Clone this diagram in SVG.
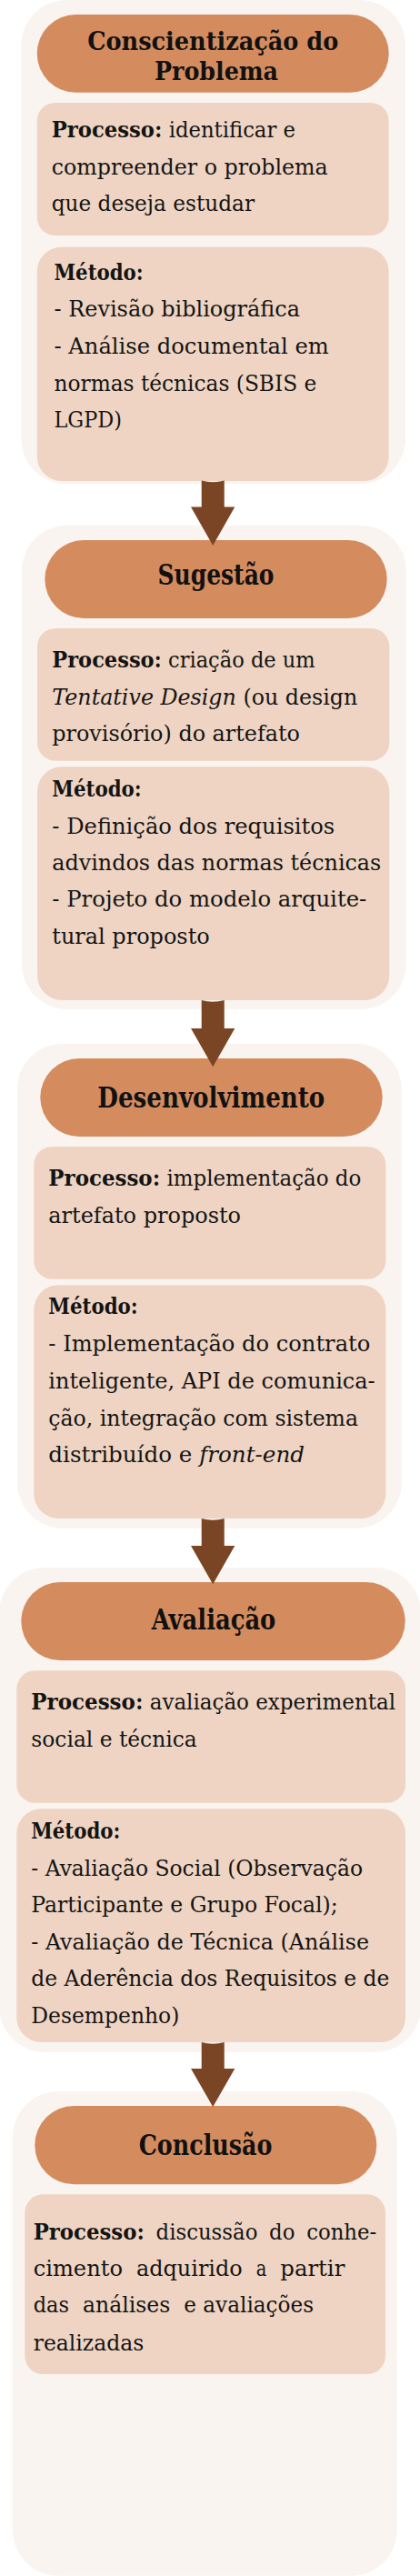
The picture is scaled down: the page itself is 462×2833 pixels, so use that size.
<svg xmlns="http://www.w3.org/2000/svg" width="462" height="2833" viewBox="0 0 462 2833">
<style>
.bg{fill:#FAF4F0}
.hd{fill:#D48C5F}
.bx{fill:#EFD4C3}
.ar{fill:#7A4524}
.t{font-family:'DejaVu Serif','Liberation Serif',serif;font-size:25px;fill:#141414}
.b{font-weight:bold}
.i{font-style:italic}
.h{font-family:'DejaVu Serif','Liberation Serif',serif;font-size:31px;font-weight:bold;fill:#111;text-anchor:middle}
.h2{font-size:28px}
.j{word-spacing:6px}
</style>
<rect width="462" height="2833" fill="#FFFFFF"/>

<g id="conscientizacao">
<rect class="bg" x="23.3" y="0" width="422.7" height="532.3" rx="50"/>
<rect class="hd" x="40.7" y="16" width="387" height="85.7" rx="42.8"/>
<text class="h h2" x="234.2" y="55" textLength="276" lengthAdjust="spacingAndGlyphs">Conscientização do</text>
<text class="h h2" x="238" y="88" textLength="136" lengthAdjust="spacingAndGlyphs">Problema</text>
<rect class="bx" x="40.7" y="113" width="387" height="146" rx="20"/>
<text class="t" x="56.7" y="150.7" textLength="268.3" lengthAdjust="spacingAndGlyphs"><tspan class="b">Processo:</tspan> identificar e</text>
<text class="t" x="56.7" y="191.7" textLength="304" lengthAdjust="spacingAndGlyphs">compreender o problema</text>
<text class="t" x="56.7" y="231.7" textLength="223.3" lengthAdjust="spacingAndGlyphs">que deseja estudar</text>
<rect class="bx" x="40.7" y="271.7" width="387" height="257.3" rx="27"/>
<text class="t b" x="59.5" y="308" textLength="98.2" lengthAdjust="spacingAndGlyphs">Método:</text>
<text class="t" x="59.5" y="348.3" textLength="270.5" lengthAdjust="spacingAndGlyphs">- Revisão bibliográfica</text>
<text class="t" x="59.5" y="389.3" textLength="302.2" lengthAdjust="spacingAndGlyphs">- Análise documental em</text>
<text class="t" x="59.5" y="430" textLength="288.8" lengthAdjust="spacingAndGlyphs">normas técnicas (SBIS e</text>
<text class="t" x="59.5" y="470" textLength="74.5" lengthAdjust="spacingAndGlyphs">LGPD)</text>
</g>

<g id="sugestao">
<rect class="bg" x="24" y="577.7" width="422.7" height="532.3" rx="50"/>
<rect class="hd" x="49.3" y="594" width="376.4" height="86" rx="43"/>
<text class="h" x="237.5" y="643.3" textLength="128" lengthAdjust="spacingAndGlyphs">Sugestão</text>
<rect class="bx" x="41" y="691" width="387.3" height="145.7" rx="20"/>
<text class="t" x="57.3" y="734" textLength="289.4" lengthAdjust="spacingAndGlyphs"><tspan class="b">Processo:</tspan> criação de um</text>
<text class="t" x="57.3" y="775" textLength="336" lengthAdjust="spacingAndGlyphs"><tspan class="i">Tentative Design</tspan> (ou design</text>
<text class="t" x="57.3" y="815" textLength="272.7" lengthAdjust="spacingAndGlyphs">provisório) do artefato</text>
<rect class="bx" x="41" y="843.3" width="387.3" height="256.7" rx="27"/>
<text class="t b" x="57.3" y="876" textLength="98.4" lengthAdjust="spacingAndGlyphs">Método:</text>
<text class="t" x="57.3" y="916.7" textLength="311" lengthAdjust="spacingAndGlyphs">- Definição dos requisitos</text>
<text class="t" x="57.3" y="956.7" textLength="362" lengthAdjust="spacingAndGlyphs">advindos das normas técnicas</text>
<text class="t" x="57.3" y="997" textLength="346" lengthAdjust="spacingAndGlyphs">- Projeto do modelo arquite-</text>
<text class="t" x="57.3" y="1038.3" textLength="173.4" lengthAdjust="spacingAndGlyphs">tural proposto</text>
</g>

<g id="desenvolvimento">
<rect class="bg" x="19" y="1147.7" width="422.7" height="533" rx="50"/>
<rect class="hd" x="44.3" y="1164" width="376.4" height="86" rx="43"/>
<text class="h" x="232.3" y="1218.3" textLength="250" lengthAdjust="spacingAndGlyphs">Desenvolvimento</text>
<rect class="bx" x="37.3" y="1261" width="387" height="145.7" rx="20"/>
<text class="t" x="53.3" y="1304" textLength="344" lengthAdjust="spacingAndGlyphs"><tspan class="b">Processo:</tspan> implementação do</text>
<text class="t" x="53.3" y="1345" textLength="211.7" lengthAdjust="spacingAndGlyphs">artefato proposto</text>
<rect class="bx" x="37.3" y="1413.3" width="387" height="256.7" rx="27"/>
<text class="t b" x="53.3" y="1445" textLength="98.4" lengthAdjust="spacingAndGlyphs">Método:</text>
<text class="t" x="53.3" y="1486" textLength="354" lengthAdjust="spacingAndGlyphs">- Implementação do contrato</text>
<text class="t" x="53.3" y="1527.3" textLength="359.4" lengthAdjust="spacingAndGlyphs">inteligente, API de comunica-</text>
<text class="t" x="53.3" y="1568.3" textLength="340.7" lengthAdjust="spacingAndGlyphs">ção, integração com sistema</text>
<text class="t" x="53.3" y="1608.3" textLength="281.7" lengthAdjust="spacingAndGlyphs">distribuído e <tspan class="i">front-end</tspan></text>
</g>

<g id="avaliacao">
<rect class="bg" x="-1" y="1724" width="464" height="532.7" rx="50"/>
<rect class="hd" x="23.3" y="1740" width="422.4" height="86" rx="43"/>
<text class="h" x="235" y="1791.7" textLength="136.7" lengthAdjust="spacingAndGlyphs">Avaliação</text>
<rect class="bx" x="18.3" y="1837.3" width="427.7" height="145.4" rx="20"/>
<text class="t" x="34.3" y="1880" textLength="400.7" lengthAdjust="spacingAndGlyphs"><tspan class="b">Processo:</tspan> avaliação experimental</text>
<text class="t" x="34.3" y="1920.7" textLength="182.4" lengthAdjust="spacingAndGlyphs">social e técnica</text>
<rect class="bx" x="18.3" y="1989.3" width="427.7" height="256.7" rx="27"/>
<text class="t b" x="34.3" y="2021.7" textLength="98" lengthAdjust="spacingAndGlyphs">Método:</text>
<text class="t" x="34.3" y="2062.7" textLength="364.7" lengthAdjust="spacingAndGlyphs">- Avaliação Social (Observação</text>
<text class="t" x="34.3" y="2103.3" textLength="337.4" lengthAdjust="spacingAndGlyphs">Participante e Grupo Focal);</text>
<text class="t" x="34.3" y="2144" textLength="371.7" lengthAdjust="spacingAndGlyphs">- Avaliação de Técnica (Análise</text>
<text class="t" x="34.3" y="2184.3" textLength="394" lengthAdjust="spacingAndGlyphs">de Aderência dos Requisitos e de</text>
<text class="t" x="34.3" y="2225" textLength="163" lengthAdjust="spacingAndGlyphs">Desempenho)</text>
</g>

<g id="conclusao">
<rect class="bg" x="14" y="2300" width="422.7" height="532.7" rx="50"/>
<rect class="hd" x="38.3" y="2316" width="376" height="86.3" rx="43"/>
<text class="h" x="226" y="2370" textLength="146.7" lengthAdjust="spacingAndGlyphs">Conclusão</text>
<rect class="bx" x="27.3" y="2413.3" width="396.7" height="197.7" rx="20"/>
<text class="t j" x="36.7" y="2462.7" textLength="377.6" lengthAdjust="spacingAndGlyphs"><tspan class="b">Processo:</tspan> discussão do conhe-</text>
<text class="t" y="2503.3"><tspan x="36.7" textLength="98.3" lengthAdjust="spacingAndGlyphs">cimento</tspan><tspan x="150" textLength="116.7" lengthAdjust="spacingAndGlyphs">adquirido</tspan><tspan x="281.7" textLength="11.6" lengthAdjust="spacingAndGlyphs">a</tspan><tspan x="308.3" textLength="71" lengthAdjust="spacingAndGlyphs">partir</tspan></text>
<text class="t" y="2543.3"><tspan x="36.7" textLength="39.3" lengthAdjust="spacingAndGlyphs">das</tspan><tspan x="91" textLength="96.3" lengthAdjust="spacingAndGlyphs">análises</tspan><tspan x="202.3" textLength="142.7" lengthAdjust="spacingAndGlyphs">e avaliações</tspan></text>
<text class="t" x="36.7" y="2585" textLength="121.6" lengthAdjust="spacingAndGlyphs">realizadas</text>
</g>

<g id="connectors">
<path class="ar" d="M221.7,528.5 Q234.2,532 246.7,528.5 L246.7,557.5 L258.3,557.5 L234.2,600 L210,557.5 L221.7,557.5 Z"/>
<path class="ar" d="M221.7,1100 Q234.2,1103.5 246.7,1100 L246.7,1131 L258.3,1131 L234.2,1173.3 L210,1131 L221.7,1131 Z"/>
<path class="ar" d="M221.7,1670 Q234.2,1673.5 246.7,1670 L246.7,1700 L258.3,1700 L234.2,1742.3 L210,1700 L221.7,1700 Z"/>
<path class="ar" d="M221.7,2246 Q234.2,2249.5 246.7,2246 L246.7,2275 L258.3,2275 L234.2,2317 L210,2275 L221.7,2275 Z"/>
</g>
</svg>
